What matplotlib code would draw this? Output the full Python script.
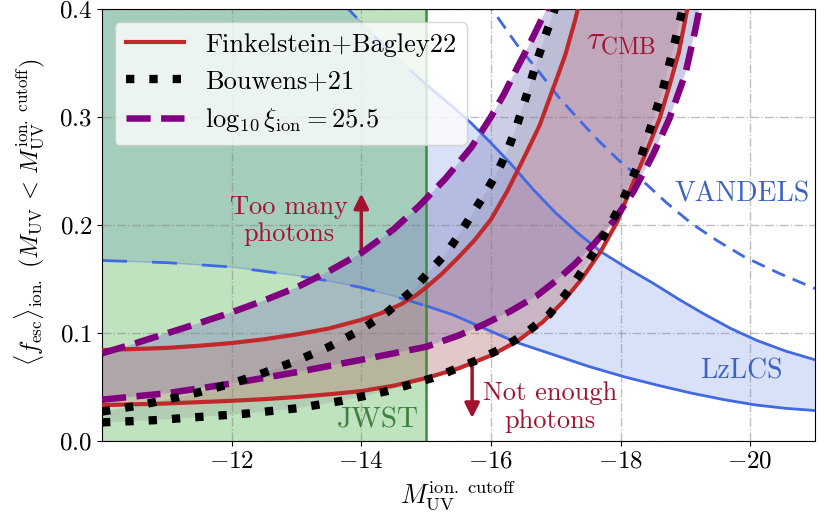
import numpy as np
import matplotlib
matplotlib.use("Agg")
import matplotlib.pyplot as plt

plt.rcParams.update({
    "font.family": "serif",
    "font.serif": ["cmr10"],
    "mathtext.fontset": "cm",
    "axes.formatter.use_mathtext": True,
    "font.size": 18,
})

# Finkelstein+Bagley22 band (tau_CMB)
fb_hi_x = [-10, -10.5, -11, -11.5, -12, -12.5, -13, -13.5, -14, -14.3, -14.6, -14.85, -15.0, -15.25,
           -15.5, -15.75, -16.0, -16.25, -16.5, -16.75, -17.0, -17.15, -17.3, -17.5]
fb_hi_y = [0.084, 0.085, 0.086, 0.088, 0.0905, 0.094, 0.0985, 0.104, 0.112, 0.118, 0.126, 0.135, 0.142,
           0.155, 0.170, 0.186, 0.205, 0.231, 0.261, 0.292, 0.333, 0.358, 0.390, 0.44]
fb_lo_x = [-10, -11, -12, -12.5, -13, -13.5, -14, -14.5, -15, -15.5, -16, -16.4, -16.8, -17.1, -17.4,
           -17.7, -17.95, -18.2, -18.4, -18.6, -18.75, -18.9, -19.02, -19.3]
fb_lo_y = [0.033, 0.0345, 0.037, 0.0385, 0.0405, 0.043, 0.046, 0.051, 0.058, 0.067, 0.079, 0.092, 0.110,
           0.128, 0.150, 0.176, 0.203, 0.240, 0.268, 0.298, 0.328, 0.360, 0.397, 0.47]

# Bouwens+21 band
bw_hi_x = [-10, -10.5, -11, -11.5, -12, -12.5, -13, -13.5, -14, -14.4, -14.8, -15.05, -15.3, -15.5,
           -15.7, -15.9, -16.1, -16.25, -16.4, -16.55, -16.7, -16.85, -16.95, -17.1]
bw_hi_y = [0.027, 0.032, 0.038, 0.045, 0.053, 0.063, 0.074, 0.087, 0.103, 0.119, 0.140, 0.157, 0.173,
           0.190, 0.209, 0.228, 0.249, 0.268, 0.292, 0.320, 0.350, 0.377, 0.394, 0.42]
bw_lo_x = [-10, -10.8, -11.5, -12.2, -13, -13.7, -14.4, -15.15, -15.8, -16.15, -16.5, -16.9, -17.25,
           -17.65, -18.0, -18.3, -18.5, -18.65, -18.8, -18.92, -19.1]
bw_lo_y = [0.017, 0.019, 0.022, 0.025, 0.030, 0.037, 0.046, 0.059, 0.075, 0.085, 0.098, 0.117, 0.143,
           0.180, 0.218, 0.260, 0.297, 0.325, 0.360, 0.390, 0.44]

# log10 xi_ion = 25.5 band
xi_hi_x = [-10, -10.5, -11, -11.5, -12, -12.5, -13, -13.5, -14, -14.5, -14.9, -15.3, -15.7, -16.0,
           -16.2, -16.4, -16.6, -16.85, -17.1]
xi_hi_y = [0.081, 0.090, 0.0995, 0.109, 0.119, 0.130, 0.142, 0.157, 0.174, 0.196, 0.218, 0.243, 0.272,
           0.300, 0.321, 0.345, 0.368, 0.399, 0.435]
xi_lo_x = [-10, -11, -12, -13, -14, -15, -15.5, -15.9, -16.3, -16.7, -17.0, -17.3, -17.6, -17.9, -18.2,
           -18.5, -18.75, -19.0, -19.15, -19.25, -19.4]
xi_lo_y = [0.038, 0.044, 0.053, 0.0635, 0.075, 0.087, 0.0975, 0.108, 0.120, 0.134, 0.148, 0.164, 0.183,
           0.204, 0.231, 0.265, 0.298, 0.340, 0.380, 0.410, 0.46]

# LzLCS band
lz_hi_x = [-10, -12, -13.0, -13.8, -14.2, -14.6, -15.0, -15.4, -15.7, -16.0, -16.3, -16.65, -17.0,
           -17.35, -17.7, -18.1, -18.5, -18.9, -19.3, -19.7, -20.1, -20.55, -21]
lz_hi_y = [0.65, 0.52, 0.46, 0.40, 0.375, 0.352, 0.330, 0.310, 0.294, 0.276, 0.257, 0.233, 0.211,
           0.192, 0.175, 0.160, 0.146, 0.131, 0.117, 0.104, 0.093, 0.083, 0.075]
lz_lo_x = [-10, -11, -12, -12.5, -13, -13.5, -14, -14.5, -15, -15.4, -15.9, -16.4, -16.7, -17.05, -17.5,
           -18.07, -18.6, -19.1, -19.6, -20.1, -20.55, -21]
lz_lo_y = [0.167, 0.165, 0.161, 0.157, 0.153, 0.148, 0.142, 0.134, 0.125, 0.117, 0.104, 0.091, 0.085,
           0.078, 0.069, 0.059, 0.051, 0.044, 0.038, 0.033, 0.030, 0.028]

# VANDELS
vd_x = [-15.8, -16.05, -16.4, -16.74, -17.05, -17.35, -17.66, -17.97, -18.32, -18.7, -19.1, -19.5,
        -19.92, -20.45, -21]
vd_y = [0.418, 0.397, 0.367, 0.342, 0.318, 0.298, 0.278, 0.260, 0.242, 0.221, 0.201, 0.185, 0.170,
        0.155, 0.141]

jwst_limit = -15

RED = "#c0292b"
DARKRED = "#a3122f"
BLUE = "royalblue"
PURPLE = "purple"
GREEN = "tab:green"


def band(ax, xh, yh, xl, yl, color, alpha):
    px = np.r_[xh, xl[::-1]]
    py = np.r_[yh, yl[::-1]]
    ax.fill(px, py, color=color, alpha=alpha, lw=0, zorder=1)


def split_plot(ax, x, y):
    x = np.array(x)
    y = np.array(y)
    faint = x >= jwst_limit
    solid = x <= jwst_limit
    ax.plot(x, y, color=BLUE, lw=1, alpha=0.35, zorder=2)
    ax.plot(x[faint], y[faint], color=BLUE, lw=2, ls=(0, (9, 9)), zorder=2)
    ax.plot(x[solid], y[solid], color=BLUE, lw=2, zorder=2)


fig = plt.figure(figsize=(8.24, 5.22), dpi=100)
ax = fig.add_axes([0.1238, 0.1557, 0.8653, 0.827])

band(ax, lz_hi_x, lz_hi_y, lz_lo_x, lz_lo_y, BLUE, 0.2)
ax.axvspan(jwst_limit, -10, color=GREEN, alpha=0.3, lw=0, zorder=1)
band(ax, bw_hi_x, bw_hi_y, bw_lo_x, bw_lo_y, "gray", 0.2)
band(ax, xi_hi_x, xi_hi_y, xi_lo_x, xi_lo_y, "#8282c0", 0.4)
band(ax, fb_hi_x, fb_hi_y, fb_lo_x, fb_lo_y, "#d64848", 0.18)

split_plot(ax, lz_hi_x, lz_hi_y)
split_plot(ax, lz_lo_x, lz_lo_y)
ax.plot(vd_x, vd_y, color=BLUE, lw=2, ls=(0, (5, 3)), zorder=2)

ax.axvline(jwst_limit, color="#3d8b3d", lw=1.8, zorder=2)

l1, = ax.plot(fb_hi_x, fb_hi_y, color=RED, lw=3, zorder=3, label="Finkelstein+Bagley22")
ax.plot(fb_lo_x, fb_lo_y, color=RED, lw=3, zorder=3)
l3, = ax.plot(xi_hi_x, xi_hi_y, color=PURPLE, lw=4.7, ls="--", zorder=4,
              label=r"$\log_{10}\xi_{\rm ion} = 25.5$")
ax.plot(xi_lo_x, xi_lo_y, color=PURPLE, lw=4.7, ls="--", zorder=4)
l2, = ax.plot(bw_hi_x, bw_hi_y, color="k", lw=6, ls=(0, (1, 1.8)), zorder=5, label="Bouwens+21")
ax.plot(bw_lo_x, bw_lo_y, color="k", lw=6, ls=(0, (1, 1.8)), zorder=5)

# labels and arrows
ax.text(-18.0, 0.369, r"$\tau_{\rm CMB}$", color=DARKRED, fontsize=24, ha="center", va="center")
ax.text(-12.89, 0.204, "Too many\nphotons", color=DARKRED, fontsize=19, ha="center", va="center")
ax.annotate("", xy=(-14, 0.229), xytext=(-14, 0.176),
            arrowprops=dict(arrowstyle="-|>", color=DARKRED, lw=2.5, mutation_scale=22,
                            shrinkA=0, shrinkB=0))
ax.text(-16.91, 0.031, "Not enough\nphotons", color=DARKRED, fontsize=19, ha="center", va="center")
ax.annotate("", xy=(-15.71, 0.021), xytext=(-15.71, 0.073),
            arrowprops=dict(arrowstyle="-|>", color=DARKRED, lw=2.5, mutation_scale=22,
                            shrinkA=0, shrinkB=0))
ax.text(-19.87, 0.228, "VANDELS", color="#3b62c4", fontsize=20, ha="center", va="center")
ax.text(-19.87, 0.064, "LzLCS", color="#3b62c4", fontsize=20, ha="center", va="center")
ax.text(-14.25, 0.019, "JWST", color="#3f7f3f", fontsize=21, ha="center", va="center")

ax.set_xlim(-10, -21)
ax.set_ylim(0, 0.4)
ax.set_xticks([-12, -14, -16, -18, -20])
ax.set_yticks([0.0, 0.1, 0.2, 0.3, 0.4])
ax.grid(True, ls="-.", color="gray", alpha=0.5, lw=1)
ax.set_xlabel(r"$M_{\rm UV}^{\rm ion.\ cutoff}$", fontsize=19)
ax.set_ylabel(r"$\langle f_{\rm esc}\rangle_{\rm ion.}\ (M_{\rm UV}\, <\, M_{\rm UV}^{\rm ion.\ cutoff})$",
              fontsize=17.5)
ax.yaxis.set_label_coords(-0.077, 0.53)

leg = ax.legend(handles=[l1, l2, l3], loc="upper left", fontsize=19, handlelength=2.2,
                framealpha=0.8)
leg.set_zorder(10)

fig.savefig("out.png", dpi=100)
